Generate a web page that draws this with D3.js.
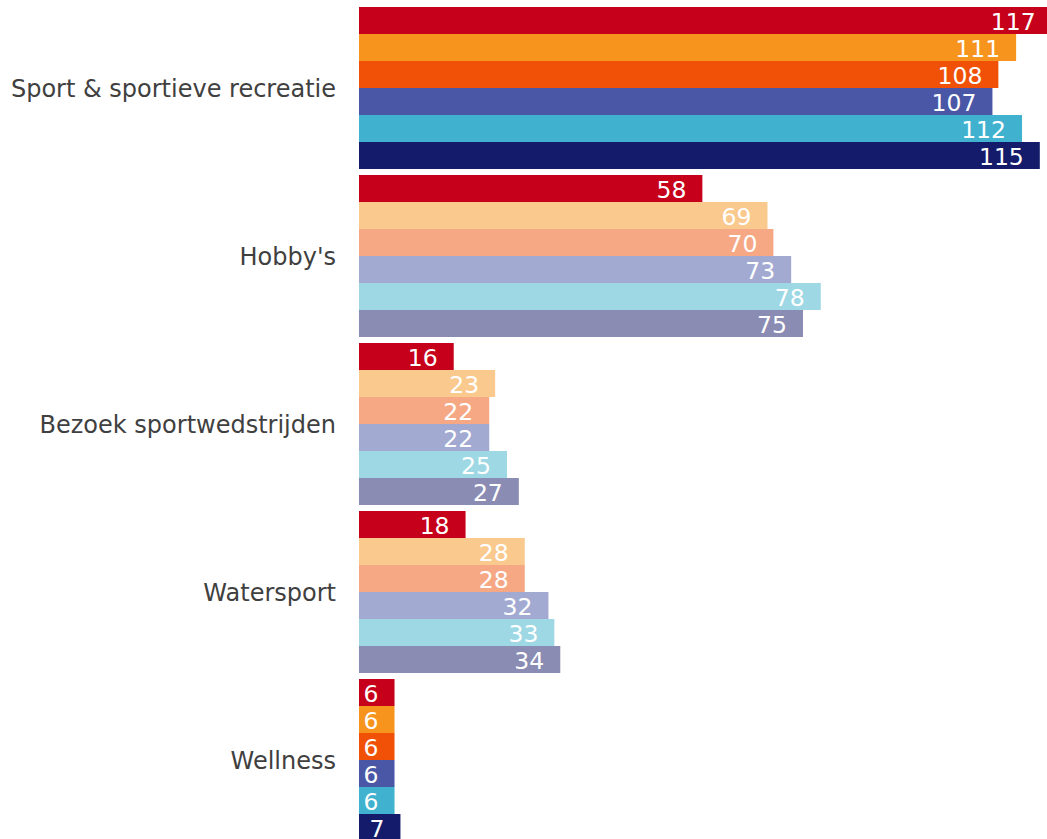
<!DOCTYPE html>
<html>
<head>
<meta charset="utf-8">
<script src="https://cdn.jsdelivr.net/npm/d3@7"></script>
<style>
  html, body { margin: 0; padding: 0; background: #fff; }
  svg { display: block; }
</style>
</head>
<body>
<svg id="chart" width="1047" height="839"></svg>
<script>
const categories = ["Sport & sportieve recreatie", "Hobby's", "Bezoek sportwedstrijden", "Watersport", "Wellness"];
const seriesKeys = ["s1", "s2", "s3", "s4", "s5", "s6"];
const series1 = [117, 58, 16, 18, 6];
const series2 = [111, 69, 23, 28, 6];
const series3 = [108, 70, 22, 28, 6];
const series4 = [107, 73, 22, 32, 6];
const series5 = [112, 78, 25, 33, 6];
const series6 = [115, 75, 27, 34, 7];
const fullColors  = ["#C6001A", "#F7941D", "#F05106", "#4957A6", "#40B1CE", "#141B6B"];
const lightColors = ["#C6001A", "#FAC98E", "#F6A885", "#A2AAD2", "#9ED8E4", "#8A8CB4"];
const highlighted = [true, false, false, false, true];

const seriesValues = [series1, series2, series3, series4, series5, series6];
const rows = categories.map((c, i) => ({
  category: c,
  full: highlighted[i],
  values: seriesKeys.map((k, j) => ({ key: k, idx: j, value: seriesValues[j][i] }))
}));

const svg = d3.select("#chart");
const x0 = 359;
const x = d3.scaleLinear().domain([0, 117]).range([x0, x0 + 117 * 5.92]);
const y = d3.scaleBand().domain(categories).range([4, 844])
  .paddingInner(6 / 168).paddingOuter(3 / 168);
const ySub = d3.scaleBand().domain(seriesKeys).range([0, y.bandwidth()]).padding(0);

const groups = svg.selectAll("g.cat").data(rows).join("g")
  .attr("class", "cat")
  .attr("transform", d => `translate(0,${y(d.category)})`);

groups.selectAll("rect").data(d => d.values.map(v => ({ ...v, full: d.full }))).join("rect")
  .attr("x", x(0))
  .attr("y", d => ySub(d.key))
  .attr("width", d => x(d.value) - x(0))
  .attr("height", ySub.bandwidth())
  .attr("fill", d => d.full ? fullColors[d.idx] : lightColors[d.idx]);

groups.selectAll("text.val").data(d => d.values).join("text")
  .attr("class", "val")
  .attr("x", d => x(d.value) - 16)
  .attr("y", d => ySub(d.key) + ySub.bandwidth() / 2)
  .attr("dy", "0.42em")
  .attr("text-anchor", "end")
  .attr("fill", "#fff")
  .style("font-family", "'DejaVu Sans', Verdana, sans-serif")
  .style("font-size", "23.5px")
  .text(d => d.value);

svg.selectAll("text.cat").data(rows).join("text")
  .attr("class", "cat")
  .attr("x", x0 - 23)
  .attr("y", d => y(d.category) + y.bandwidth() / 2)
  .attr("dy", "0.36em")
  .attr("text-anchor", "end")
  .attr("fill", "#404040")
  .style("font-family", "'DejaVu Sans', Verdana, sans-serif")
  .style("font-size", "24px")
  .text(d => d.category);
</script>
</body>
</html>
